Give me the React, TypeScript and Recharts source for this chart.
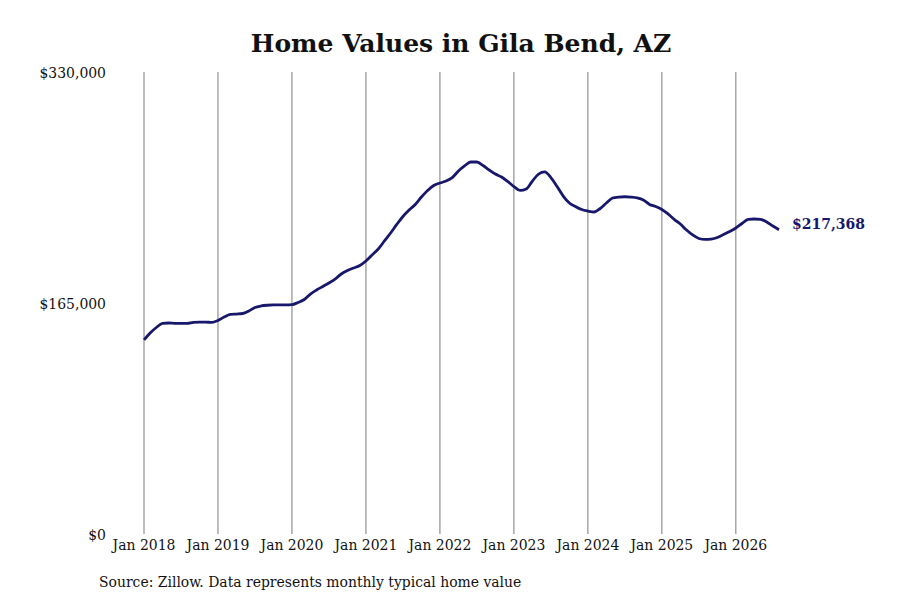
import React from 'react';
import { LineChart, Line, XAxis, YAxis, ReferenceLine } from 'recharts';

// Monthly typical home value, Jan 2018 onward (index = months since Jan 2018)
const values: number[] = [
    138600, 143600, 147500, 150400, 150700, 150500, 150500, 150500, 151200, 151400, 151400, 151100,
    152500, 155000, 156800, 157100, 157500, 159300, 161800, 162900, 163400, 163600, 163600, 163600,
    163800, 165400, 167500, 171400, 174300, 176800, 179300, 182100, 185700, 188200, 190000, 191800,
    195000, 199300, 203600, 209300, 215000, 221100, 226800, 231400, 235400, 240700, 245400, 248900,
    250700, 252100, 254600, 259300, 262900, 265700, 265700, 263200, 260000, 257100, 255000, 251800,
    248200, 245400, 246400, 252100, 257100, 258600, 254600, 248200, 241400, 236400, 233900, 231800,
    230700, 230000, 232500, 236400, 240000, 240700, 240900, 240700, 240100, 238600, 235400, 233900,
    231800, 228600, 224700, 221400, 217100, 213600, 211100, 210400, 210700, 211800, 213900, 216100,
    218600, 221800, 224700, 225000, 224700, 222900, 220000, 217368,
];

const tickMonths = [0, 12, 24, 36, 48, 60, 72, 84, 96];
const tickLabels = ['Jan 2018', 'Jan 2019', 'Jan 2020', 'Jan 2021', 'Jan 2022', 'Jan 2023', 'Jan 2024', 'Jan 2025', 'Jan 2026'];
const yTicks = [0, 165000, 330000];

const data = values.map((v, i) => ({ month: i, value: v }));

const SERIF = '"DejaVu Serif", serif';
const NAVY = '#17176b';

const fmtMoney = (v: number) => '$' + v.toLocaleString('en-US');

const EndLabel = (props: any) => {
    const { x, y, index } = props;
    if (index !== values.length - 1) return null;
    return (
        <text x={x + 13} y={y - 6} dy="0.35em" fill={NAVY} fontFamily={SERIF} fontWeight="bold" fontSize={14}>
            {fmtMoney(values[values.length - 1])}
        </text>
    );
};

const tickStyle = { fill: '#111', fontSize: 15.5, fontFamily: SERIF, fontStretch: 'condensed' } as any;

export default function App() {
    return (
        <div style={{ position: 'absolute', left: 0, top: 0, width: 900, height: 600, background: '#fff' }}>
            <div
                style={{
                    position: 'absolute', left: 0, top: 30, width: 922, textAlign: 'center',
                    fontFamily: SERIF, fontWeight: 'bold', fontSize: 25, lineHeight: '28px', color: '#111',
                }}
            >
                Home Values in Gila Bend, AZ
            </div>
            <LineChart width={900} height={600} data={data} margin={{ top: 72, right: 121, left: 44, bottom: 36 }}>
                <XAxis
                    dataKey="month"
                    type="number"
                    domain={[0, values.length - 1]}
                    ticks={tickMonths}
                    tickFormatter={(m: number) => tickLabels[tickMonths.indexOf(m)]}
                    axisLine={false}
                    tickLine={false}
                    tickSize={0}
                    tickMargin={5}
                    height={30}
                    interval={0}
                    tick={tickStyle}
                />
                <YAxis
                    domain={[0, 330000]}
                    ticks={yTicks}
                    tickFormatter={fmtMoney}
                    axisLine={false}
                    tickLine={false}
                    tickSize={0}
                    tickMargin={38}
                    width={100}
                    interval={0}
                    tick={tickStyle}
                />
                {tickMonths.map((m) => (
                    <ReferenceLine key={m} x={m} stroke="#7a7a7a" strokeWidth={1} />
                ))}
                <Line
                    type="monotone"
                    dataKey="value"
                    stroke={NAVY}
                    strokeWidth={2.8}
                    dot={false}
                    label={<EndLabel />}
                    isAnimationActive={false}
                />
            </LineChart>
            <div
                style={{
                    position: 'absolute', left: 99, top: 572, fontFamily: SERIF, fontStretch: 'condensed',
                    fontSize: 15.5, lineHeight: '20px', color: '#111', whiteSpace: 'nowrap',
                }}
            >
                Source: Zillow. Data represents monthly typical home value
            </div>
        </div>
    );
}
